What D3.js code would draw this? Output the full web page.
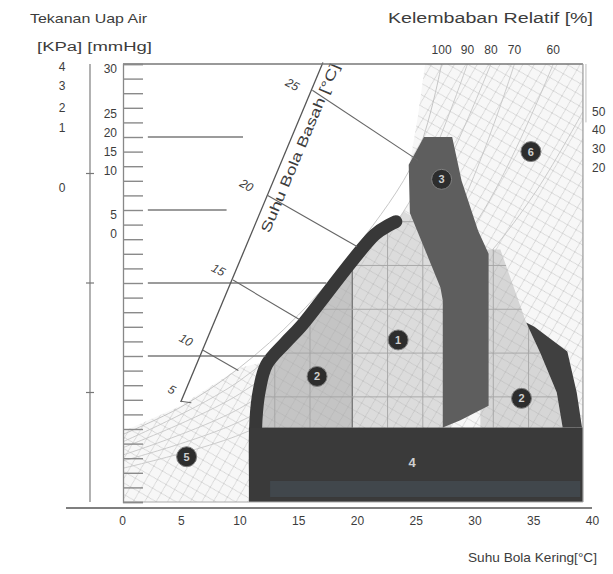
<!DOCTYPE html>
<html><head><meta charset="utf-8">
<script src="https://cdn.jsdelivr.net/npm/d3@7"></script>
<style>
body{margin:0;background:#fff}
svg{display:block}
text{font-family:"Liberation Sans",Arial,sans-serif;fill:#3c3c3c}
</style>
</head><body>
<svg id="c" width="613" height="574"></svg>
<script>
// ---------------- data ----------------
const tempTicks = [0, 5, 10, 15, 20, 25, 30, 35, 40];
const vpMinorTicks = [0,1,2,3,4,5,6,7,8,9,10,11,12,13,14,15,16,17,18,19,20,21,22,23,24,25,26,27,28,29,30];
const kPaLabels = ["4", "3", "2", "1", "0"];
const kPaPos = [29.8, 28.5, 27.0, 25.6, 21.5];
const mmHgLabels = ["30", "25", "20", "15", "10", "5", "0"];
const mmHgPos = [29.7, 26.6, 25.3, 24.0, 22.7, 19.7, 18.4];
const outerMarks = [7.5, 15, 22.5];
const rhTopLabels = ["100", "90", "80", "70", "60"];
const rhTopPos = [27.2, 29.4, 31.4, 33.4, 36.7];
const rhRightLabels = ["50", "40", "30", "20"];
const rhRightPos = [26.7, 25.5, 24.2, 22.9];

// relative-humidity curves, [temperature °C, vapour pressure mmHg]
const saturation = [[0,4.6],[5,6.5],[10,9.2],[15,12.8],[20,17.5],[25,23.6],[27.2,30]];
const rh90 = [[0,4.1],[10,8.3],[20,15.8],[25,21.3],[29.4,30]];
const rh80 = [[0,3.7],[10,7.4],[20,14.0],[25,18.9],[31.4,30]];
const rh70 = [[0,3.2],[10,6.4],[20,12.3],[27,17.5],[33.4,30]];
const rh60 = [[0,2.8],[10,5.5],[20,10.5],[30,19.0],[36.7,30]];
const rh50 = [[0,2.3],[10,4.6],[20,8.8],[30,15.9],[35,21.0],[39.2,26.7]];

// outline of the hatched zone 5 (upper-left edge)
const zone5Edge = [[0,4.8],[5,6.6],[10,9.2],[12.3,9.6],[13.9,10.9],[15.2,12.0],[21.5,18.3],[22.8,19.0],[23.3,19.2],[24.5,20.5],[24.5,23.2],[25.2,26.5],[25.8,30]];

// wet bulb scale
const wetAxis = [[5.0,6.85],[17.1,30.1]];
const wetLabels = ["5", "10", "15", "20", "25"];
const wetStart = [[5.0,6.9],[6.9,10.4],[9.45,15.2],[12.4,21.0],[16.2,28.2]];
const wetEnd = [[5.9,6.8],[9.9,9.0],[15.1,12.5],[20.0,17.5],[25.2,23.4]];
const wetLabelPos = [[4.25,7.7],[5.45,11.1],[8.2,15.9],[10.6,21.7],[14.5,28.6]];

// horizontal vapour-pressure lines
const vpLines = [25, 20, 15, 10];
const vpLineStart = [2.2, 2.2, 2.2, 2.2];
const vpLineEnd = [10.3, 8.9, 17.4, 12.2];

// zones
const zoneEnvelope = [[11.4,5.1],[11.7,7.7],[12.3,9.4],[13.9,10.9],[15.2,12.0],[21.5,18.3],[22.8,19.0],[23.3,19.2],[24.0,19.9],[24.6,19.6],[27.3,14.5],[28.0,5.1]];
const zone1Split = 19.6;
const bandLeft = [[11.4,0],[11.4,5.6],[11.7,7.7],[12.3,9.4],[13.9,10.9],[15.2,12.0],[21.5,18.3],[22.8,19.0],[23.3,19.2]];
const zone2Right = [[30.5,17.3],[32.2,17.3],[34.4,12.3],[35.6,10.2],[37.0,7.5],[37.5,5.1],[30.5,5.1]];
const bandRight = [[34.4,12.3],[35.1,12.0],[37.9,10.3],[38.7,7.5],[39.15,5.1],[37.5,5.1],[37.0,7.5],[35.6,10.2]];
const zone3Column = [[24.4,23.1],[25.7,25.0],[28.1,25.0],[28.9,22.0],[30.3,18.6],[31.2,17.0],[31.2,6.6],[28.8,5.6],[27.3,5.1],[27.3,13.8],[27.1,14.7],[24.5,19.8]];
const zone4Rect = [[10.8,0],[39.23,5.1]];
const zone4Strip = [[12.6,0.34],[39.0,1.44]];
const gridT = [13, 16, 19.6, 22.6, 25.6, 28.6, 31.6, 34.6, 37.6];
const gridV = [7.2, 10.2, 13.2, 16.2, 19.2];

const zoneLabels = ["5", "2", "1", "3", "6", "2"];
const zoneLabelT = [5.5, 16.6, 23.5, 27.2, 34.8, 34.0];
const zoneLabelV = [3.1, 8.6, 11.1, 22.1, 24.0, 7.1];
const zone4Label = ["4"];
const zone4LabelPos = [[24.7, 2.7]];

// ---------------- drawing ----------------
const TMAX = 39.23;
const svg = d3.select("#c");
const x = d3.scaleLinear().domain([0, 40]).range([122, 592]);
const y = d3.scaleLinear().domain([0, 30]).range([502, 64]);
const P = d => [x(d[0]), y(d[1])];
const poly = pts => "M" + pts.map(P).map(p => p.join(",")).join("L") + "Z";
const curve = d3.line().x(d => x(d[0])).y(d => y(d[1])).curve(d3.curveCatmullRom);
const lin = d3.line().x(d => x(d[0])).y(d => y(d[1]));

const defs = svg.append("defs");
defs.append("clipPath").attr("id", "plot").append("rect")
  .attr("x", x(0) + 1).attr("y", y(30)).attr("width", x(TMAX) - x(0) - 1).attr("height", y(0) - y(30));
defs.append("clipPath").attr("id", "leftOf").append("rect")
  .attr("x", 0).attr("y", 0).attr("width", x(zone1Split)).attr("height", 574);
defs.append("clipPath").attr("id", "light").selectAll("path")
  .data([zoneEnvelope, zone2Right]).join("path").attr("d", poly);

const hp = defs.append("pattern").attr("id", "hatch").attr("width", 14).attr("height", 14)
  .attr("patternUnits", "userSpaceOnUse").attr("patternTransform", "rotate(-15)");
hp.append("rect").attr("width", 14).attr("height", 14).attr("fill", "#f7f7f7");
hp.append("path").attr("d", "M0,0L14,14M14,0L0,14").attr("stroke", "#cdcdcd").attr("stroke-width", 0.8);

const hp2 = defs.append("pattern").attr("id", "hatch2").attr("width", 14).attr("height", 14)
  .attr("patternUnits", "userSpaceOnUse").attr("patternTransform", "rotate(-15)");
hp2.append("path").attr("d", "M0,0L14,14M14,0L0,14").attr("stroke", "#a8a8a8").attr("stroke-width", 0.7).attr("opacity", 0.55);

const g = svg.append("g").attr("clip-path", "url(#plot)");

// zone 5 (hatched)
const z5 = zone5Edge.concat([[TMAX, 30], [TMAX, 0], [0, 0]]);
g.append("path").attr("d", poly(z5)).attr("fill", "url(#hatch)");
[rh90, rh80, rh70, rh60, rh50].forEach(c => {
  g.append("path").attr("d", curve(c)).attr("fill", "none").attr("stroke", "#c6c6c6").attr("stroke-width", 0.9);
});
g.append("path").attr("d", curve(saturation)).attr("fill", "none").attr("stroke", "#c0c0c0").attr("stroke-width", 0.9);

// zones 1 + 2 (light)
g.append("path").attr("d", poly(zoneEnvelope)).attr("fill", "#dcdcdc");
g.append("path").attr("d", poly(zoneEnvelope)).attr("fill", "#c4c4c4").attr("clip-path", "url(#leftOf)");
g.append("path").attr("d", poly(zone2Right)).attr("fill", "#d6d6d6");
const lg = g.append("g").attr("clip-path", "url(#light)");
lg.append("rect").attr("x", x(10)).attr("y", y(22)).attr("width", x(40) - x(10)).attr("height", y(0) - y(22)).attr("fill", "url(#hatch2)");
lg.selectAll("line.gt").data(gridT).join("line")
  .attr("x1", d => x(d)).attr("x2", d => x(d)).attr("y1", y(22)).attr("y2", y(0))
  .attr("stroke", d => d === zone1Split ? "#7a7a7a" : "#a4a4a4").attr("stroke-width", d => d === zone1Split ? 1.4 : 0.9);
lg.selectAll("line.gv").data(gridV).join("line")
  .attr("y1", d => y(d)).attr("y2", d => y(d)).attr("x1", x(10)).attr("x2", x(40))
  .attr("stroke", "#a4a4a4").attr("stroke-width", 0.9);

// dark bands
g.append("path").attr("d", curve(bandLeft)).attr("fill", "none").attr("stroke", "#383838")
  .attr("stroke-width", 13).attr("stroke-linejoin", "round").attr("stroke-linecap", "round");
g.append("path").attr("d", poly(bandRight)).attr("fill", "#404040");
// zone 3 column
g.append("path").attr("d", poly(zone3Column)).attr("fill", "#5e5e5e");
// zone 4
g.append("rect").attr("x", x(zone4Rect[0][0])).attr("y", y(zone4Rect[1][1]))
  .attr("width", x(zone4Rect[1][0]) - x(zone4Rect[0][0])).attr("height", y(zone4Rect[0][1]) - y(zone4Rect[1][1]))
  .attr("fill", "#3a3a3a");
g.append("rect").attr("x", x(zone4Strip[0][0])).attr("y", y(zone4Strip[1][1]))
  .attr("width", x(zone4Strip[1][0]) - x(zone4Strip[0][0])).attr("height", y(zone4Strip[0][1]) - y(zone4Strip[1][1]))
  .attr("fill", "#41474c");

// horizontal vapour-pressure lines
svg.selectAll("line.vp").data(vpLines).join("line")
  .attr("x1", (d, i) => x(vpLineStart[i])).attr("x2", (d, i) => x(vpLineEnd[i]))
  .attr("y1", d => y(d)).attr("y2", d => y(d))
  .attr("stroke", "#7a7a7a").attr("stroke-width", 1.3);

// wet bulb axis and lines
svg.append("path").attr("d", lin(wetAxis)).attr("stroke", "#555").attr("stroke-width", 1.3).attr("fill", "none");
svg.selectAll("line.wb").data(wetLabels).join("line")
  .attr("x1", (d, i) => x(wetStart[i][0])).attr("y1", (d, i) => y(wetStart[i][1]))
  .attr("x2", (d, i) => x(wetEnd[i][0])).attr("y2", (d, i) => y(wetEnd[i][1]))
  .attr("stroke", "#666").attr("stroke-width", 1.1);
svg.selectAll("text.wb").data(wetLabels).join("text")
  .attr("transform", (d, i) => `translate(${x(wetLabelPos[i][0])},${y(wetLabelPos[i][1])}) rotate(28)`)
  .attr("text-anchor", "middle").attr("dy", "0.35em").attr("font-size", 12).attr("font-style", "italic")
  .text(d => d);
{
  const a = P(wetAxis[0]), b = P(wetAxis[1]);
  const ang = Math.atan2(b[1] - a[1], b[0] - a[0]) * 180 / Math.PI;
  svg.append("text").attr("transform", `translate(300,148) rotate(${ang})`)
    .attr("text-anchor", "middle").attr("dy", "0.35em").attr("font-size", 14)
    .attr("textLength", 182).attr("lengthAdjust", "spacingAndGlyphs")
    .text("Suhu Bola Basah [°C]");
}

// zone markers
const mk = svg.append("g");
zoneLabels.forEach((n, i) => {
  mk.append("circle").attr("cx", x(zoneLabelT[i])).attr("cy", y(zoneLabelV[i])).attr("r", 10)
    .attr("fill", "#2d2d2d").attr("stroke", "#808080").attr("stroke-width", 1);
  mk.append("text").attr("x", x(zoneLabelT[i])).attr("y", y(zoneLabelV[i])).attr("dy", "0.36em")
    .attr("text-anchor", "middle").attr("font-size", 11).attr("font-weight", "bold")
    .style("fill", "#cfcfcf").text(n);
});
mk.selectAll("text.z4").data(zone4Label).join("text")
  .attr("x", (d, i) => x(zone4LabelPos[i][0])).attr("y", (d, i) => y(zone4LabelPos[i][1])).attr("dy", "0.36em")
  .attr("text-anchor", "middle").attr("font-size", 13).attr("font-weight", "bold")
  .style("fill", "#d0d0d0").text(d => d);

// frame
svg.append("line").attr("x1", x(0) + 1).attr("x2", x(TMAX)).attr("y1", y(30)).attr("y2", y(30)).attr("stroke", "#777").attr("stroke-width", 1.5);
svg.append("line").attr("x1", x(TMAX)).attr("x2", x(TMAX)).attr("y1", y(30)).attr("y2", y(0)).attr("stroke", "#999").attr("stroke-width", 1.2);
svg.append("line").attr("x1", x(TMAX) + 3).attr("x2", x(TMAX) + 3).attr("y1", y(30)).attr("y2", y(26)).attr("stroke", "#bbb").attr("stroke-width", 1);
svg.append("line").attr("x1", x(0) + 1).attr("x2", x(TMAX)).attr("y1", y(0)).attr("y2", y(0)).attr("stroke", "#aaa").attr("stroke-width", 1);

// inner left axis
const axL = svg.append("g").attr("transform", `translate(${x(0) + 1},0)`)
  .call(d3.axisRight(y).tickValues(vpMinorTicks).tickSize(20).tickFormat(""));
axL.select(".domain").attr("stroke", "#888").attr("stroke-width", 1.3);
axL.selectAll(".tick line").attr("stroke", "#8a8a8a").attr("stroke-width", 1.4);

// outer left line
svg.append("line").attr("x1", 90).attr("x2", 90).attr("y1", y(30)).attr("y2", y(0)).attr("stroke", "#888").attr("stroke-width", 1.3);
svg.selectAll("line.om").data(outerMarks).join("line")
  .attr("x1", 86).attr("x2", 94).attr("y1", d => y(d)).attr("y2", d => y(d)).attr("stroke", "#777").attr("stroke-width", 1.2);

// left labels
svg.selectAll("text.kpa").data(kPaLabels).join("text")
  .attr("x", 62).attr("y", (d, i) => y(kPaPos[i])).attr("dy", "0.35em").attr("text-anchor", "middle")
  .attr("font-size", 12).text(d => d);
svg.selectAll("text.mm").data(mmHgLabels).join("text")
  .attr("x", 117).attr("y", (d, i) => y(mmHgPos[i])).attr("dy", "0.35em").attr("text-anchor", "end")
  .attr("font-size", 12).text(d => d);

// bottom axis
svg.append("line").attr("x1", 66).attr("x2", 592).attr("y1", 508).attr("y2", 508).attr("stroke", "#555").attr("stroke-width", 1.6);
const axB = svg.append("g").attr("transform", "translate(0,514)")
  .call(d3.axisBottom(x).tickValues(tempTicks).tickSize(0).tickPadding(2));
axB.select(".domain").remove();
axB.selectAll("text").attr("font-size", 12).style("fill", "#3c3c3c").style("font-family", "Liberation Sans, Arial, sans-serif");

// RH labels
svg.selectAll("text.rht").data(rhTopLabels).join("text")
  .attr("x", (d, i) => x(rhTopPos[i])).attr("y", 54).attr("text-anchor", "middle")
  .attr("font-size", 12).text(d => d);
svg.selectAll("text.rhr").data(rhRightLabels).join("text")
  .attr("x", 592).attr("y", (d, i) => y(rhRightPos[i])).attr("dy", "0.35em")
  .attr("font-size", 12).text(d => d);

// titles
svg.append("text").attr("x", 30).attr("y", 23).attr("font-size", 13)
  .attr("textLength", 117).attr("lengthAdjust", "spacingAndGlyphs").text("Tekanan Uap Air");
svg.append("text").attr("x", 37).attr("y", 51).attr("font-size", 12)
  .attr("textLength", 115).attr("lengthAdjust", "spacingAndGlyphs").text("[KPa] [mmHg]");
svg.append("text").attr("x", 388).attr("y", 23).attr("font-size", 14)
  .attr("textLength", 205).attr("lengthAdjust", "spacingAndGlyphs").text("Kelembaban Relatif [%]");
svg.append("text").attr("x", 468).attr("y", 562).attr("font-size", 13)
  .attr("textLength", 129).attr("lengthAdjust", "spacingAndGlyphs").text("Suhu Bola Kering[°C]");
</script>
</body></html>
